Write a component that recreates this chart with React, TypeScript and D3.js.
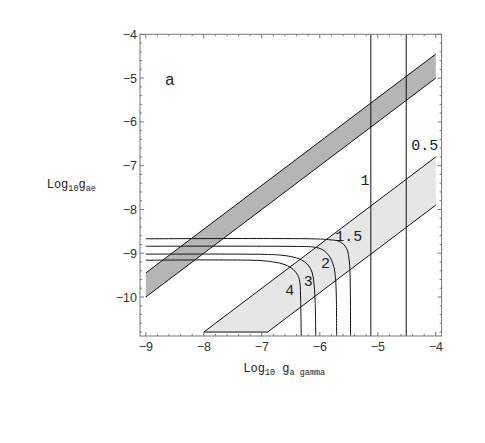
import * as d3 from 'd3'
import { useEffect, useRef } from 'react'

// tick values
const xTicks = [-9, -8, -7, -6, -5, -4]
const yTicks = [-4, -5, -6, -7, -8, -9, -10]

// shaded bands (corners)
const darkBandUpper = [[-9, -9.45], [-4, -4.45]]
const darkBandLower = [[-9, -10], [-4, -5]]
const lightBandUpper = [[-8, -10.8], [-4, -6.8]]
const lightBandLower = [[-6.9, -10.8], [-4, -7.9]]

// vertical contours and their labels
const vLines = [-5.12, -4.51]
const vLabels = [
  { text: '1', x: -5.22, y: -7.31 },
  { text: '0.5', x: -4.19, y: -6.53 },
]

// bent contours
const contour15 = [[-9, -8.67], [-6.1, -8.672], [-5.85, -8.69], [-5.655, -8.735], [-5.54, -8.886], [-5.49, -9.2], [-5.475, -9.7], [-5.47, -10.89]]
const contour2 = [[-9, -8.84], [-6.4, -8.845], [-6.1, -8.86], [-5.95, -8.92], [-5.83, -9.08], [-5.76, -9.3], [-5.73, -9.56], [-5.715, -10.0], [-5.71, -10.89]]
const contour3 = [[-9, -9.02], [-7.0, -9.025], [-6.7, -9.04], [-6.5, -9.075], [-6.32, -9.15], [-6.2, -9.27], [-6.13, -9.45], [-6.1, -9.7], [-6.08, -10.1], [-6.07, -10.89]]
const contour4 = [[-9, -9.16], [-7.06, -9.165], [-6.8, -9.2], [-6.6, -9.26], [-6.46, -9.37], [-6.38, -9.5], [-6.345, -9.65], [-6.33, -10.1], [-6.32, -10.89]]
const contours = [contour15, contour2, contour3, contour4]
const contourLabels = [
  { text: '1.5', x: -5.5, y: -8.6 },
  { text: '2', x: -5.9, y: -9.21 },
  { text: '3', x: -6.2, y: -9.62 },
  { text: '4', x: -6.52, y: -9.84 },
]

const W = 485
const H = 443

const App = () => {
  const svgRef = useRef(null)

  useEffect(() => {
    const svg = d3.select(svgRef.current)
    svg.selectAll('*').remove()

    const x = d3.scaleLinear().domain([-9.1, -3.9]).range([140, 441.6])
    const y = d3.scaleLinear().domain([-10.89, -4]).range([336, 34.3])
    const [x0, x1] = x.range()
    const [y0, y1] = y.range()

    const line = d3.line().x((d) => x(d[0])).y((d) => y(d[1]))
    const smooth = d3.line().x((d) => x(d[0])).y((d) => y(d[1])).curve(d3.curveCatmullRom)

    // bands
    svg.append('path')
      .attr('d', line([...darkBandLower, ...darkBandUpper.slice().reverse()]) + 'Z')
      .attr('fill', '#b5b5b5')
    svg.append('path')
      .attr('d', line([...lightBandUpper, ...lightBandLower.slice().reverse()]) + 'Z')
      .attr('fill', '#e6e6e6')

    const edges = [darkBandUpper, darkBandLower, lightBandUpper, lightBandLower, [lightBandUpper[0], lightBandLower[0]]]
    svg.append('g').selectAll('path').data(edges).join('path')
      .attr('d', (d) => line(d))
      .attr('fill', 'none')
      .attr('stroke', '#111')
      .attr('stroke-width', 1)

    // vertical contours
    svg.append('g').selectAll('line').data(vLines).join('line')
      .attr('x1', (d) => x(d)).attr('x2', (d) => x(d))
      .attr('y1', y1).attr('y2', y0)
      .attr('stroke', '#111')
      .attr('stroke-width', 1)

    // bent contours
    svg.append('g').selectAll('path').data(contours).join('path')
      .attr('d', (d) => smooth(d))
      .attr('fill', 'none')
      .attr('stroke', '#111')
      .attr('stroke-width', 1)

    // frame
    svg.append('rect')
      .attr('x', x0).attr('y', y1)
      .attr('width', x1 - x0).attr('height', y0 - y1)
      .attr('fill', 'none')
      .attr('stroke', '#777')
      .attr('stroke-width', 1)

    // ticks, inward on all four sides
    const xMinor = d3.range(-9, -3.95, 0.2).filter((v) => Math.abs(v - Math.round(v)) > 0.01)
    const yMinor = d3.range(-10.8, -3.95, 0.2).filter((v) => Math.abs(v - Math.round(v)) > 0.01)
    const tg = svg.append('g').attr('stroke', '#777').attr('stroke-width', 1)
    const xt = [...xTicks.map((v) => [v, 4]), ...xMinor.map((v) => [v, 2])]
    const yt = [...yTicks.map((v) => [v, 4]), ...yMinor.map((v) => [v, 2])]
    xt.forEach(([v, len]) => {
      tg.append('line').attr('x1', x(v)).attr('x2', x(v)).attr('y1', y0).attr('y2', y0 - len)
      tg.append('line').attr('x1', x(v)).attr('x2', x(v)).attr('y1', y1).attr('y2', y1 + len)
    })
    yt.forEach(([v, len]) => {
      tg.append('line').attr('y1', y(v)).attr('y2', y(v)).attr('x1', x0).attr('x2', x0 + len)
      tg.append('line').attr('y1', y(v)).attr('y2', y(v)).attr('x1', x1).attr('x2', x1 - len)
    })

    const fmt = (v) => (v < 0 ? '\u2212' + Math.abs(v) : String(v))
    svg.append('g').selectAll('text').data(xTicks).join('text')
      .attr('x', (d) => x(d)).attr('y', y0 + 14.5)
      .attr('text-anchor', 'middle')
      .style('font-family', 'Liberation Sans, Arial, sans-serif')
      .style('font-size', '12.5px')
      .attr('fill', '#333')
      .text(fmt)
    svg.append('g').selectAll('text').data(yTicks).join('text')
      .attr('x', x0 - 3).attr('y', (d) => y(d))
      .attr('dy', '0.36em')
      .attr('text-anchor', 'end')
      .style('font-family', 'Liberation Sans, Arial, sans-serif')
      .style('font-size', '12.5px')
      .attr('fill', '#333')
      .text(fmt)

    // contour labels
    const mono = 'Liberation Mono, Courier New, monospace'
    svg.append('g').selectAll('text').data([...vLabels, ...contourLabels]).join('text')
      .attr('x', (d) => x(d.x)).attr('y', (d) => y(d.y))
      .attr('dy', '0.36em')
      .attr('text-anchor', 'middle')
      .style('font-family', mono)
      .style('font-size', '15px')
      .attr('fill', '#222')
      .text((d) => d.text)

    svg.append('text')
      .attr('x', x(-8.59)).attr('y', y(-5.03))
      .attr('dy', '0.36em')
      .attr('text-anchor', 'middle')
      .style('font-family', 'Liberation Sans, Arial, sans-serif')
      .style('font-size', '16px')
      .attr('fill', '#222')
      .text('a')

    // axis titles
    const title = (tx, ty, sub1, main, sub2) => {
      const t = svg.append('text')
        .attr('x', tx).attr('y', ty)
        .style('font-family', mono)
        .style('font-size', '12px')
        .attr('fill', '#222')
      t.append('tspan').text('Log')
      t.append('tspan').attr('dy', 3).style('font-size', '8.5px').text(sub1)
      t.append('tspan').attr('dy', -3).text(main)
      t.append('tspan').attr('dy', 3).style('font-size', '8.5px').text(sub2)
    }
    title(243.3, 372.3, '10', '\u00a0g', 'a gamma')
    title(46.7, 188.3, '10', 'g', 'ae')
  }, [])

  return (
    <svg
      ref={svgRef}
      width={W}
      height={H}
      style={{ position: 'absolute', left: 0, top: 0, background: '#fff' }}
    ></svg>
  )
}

export default App
